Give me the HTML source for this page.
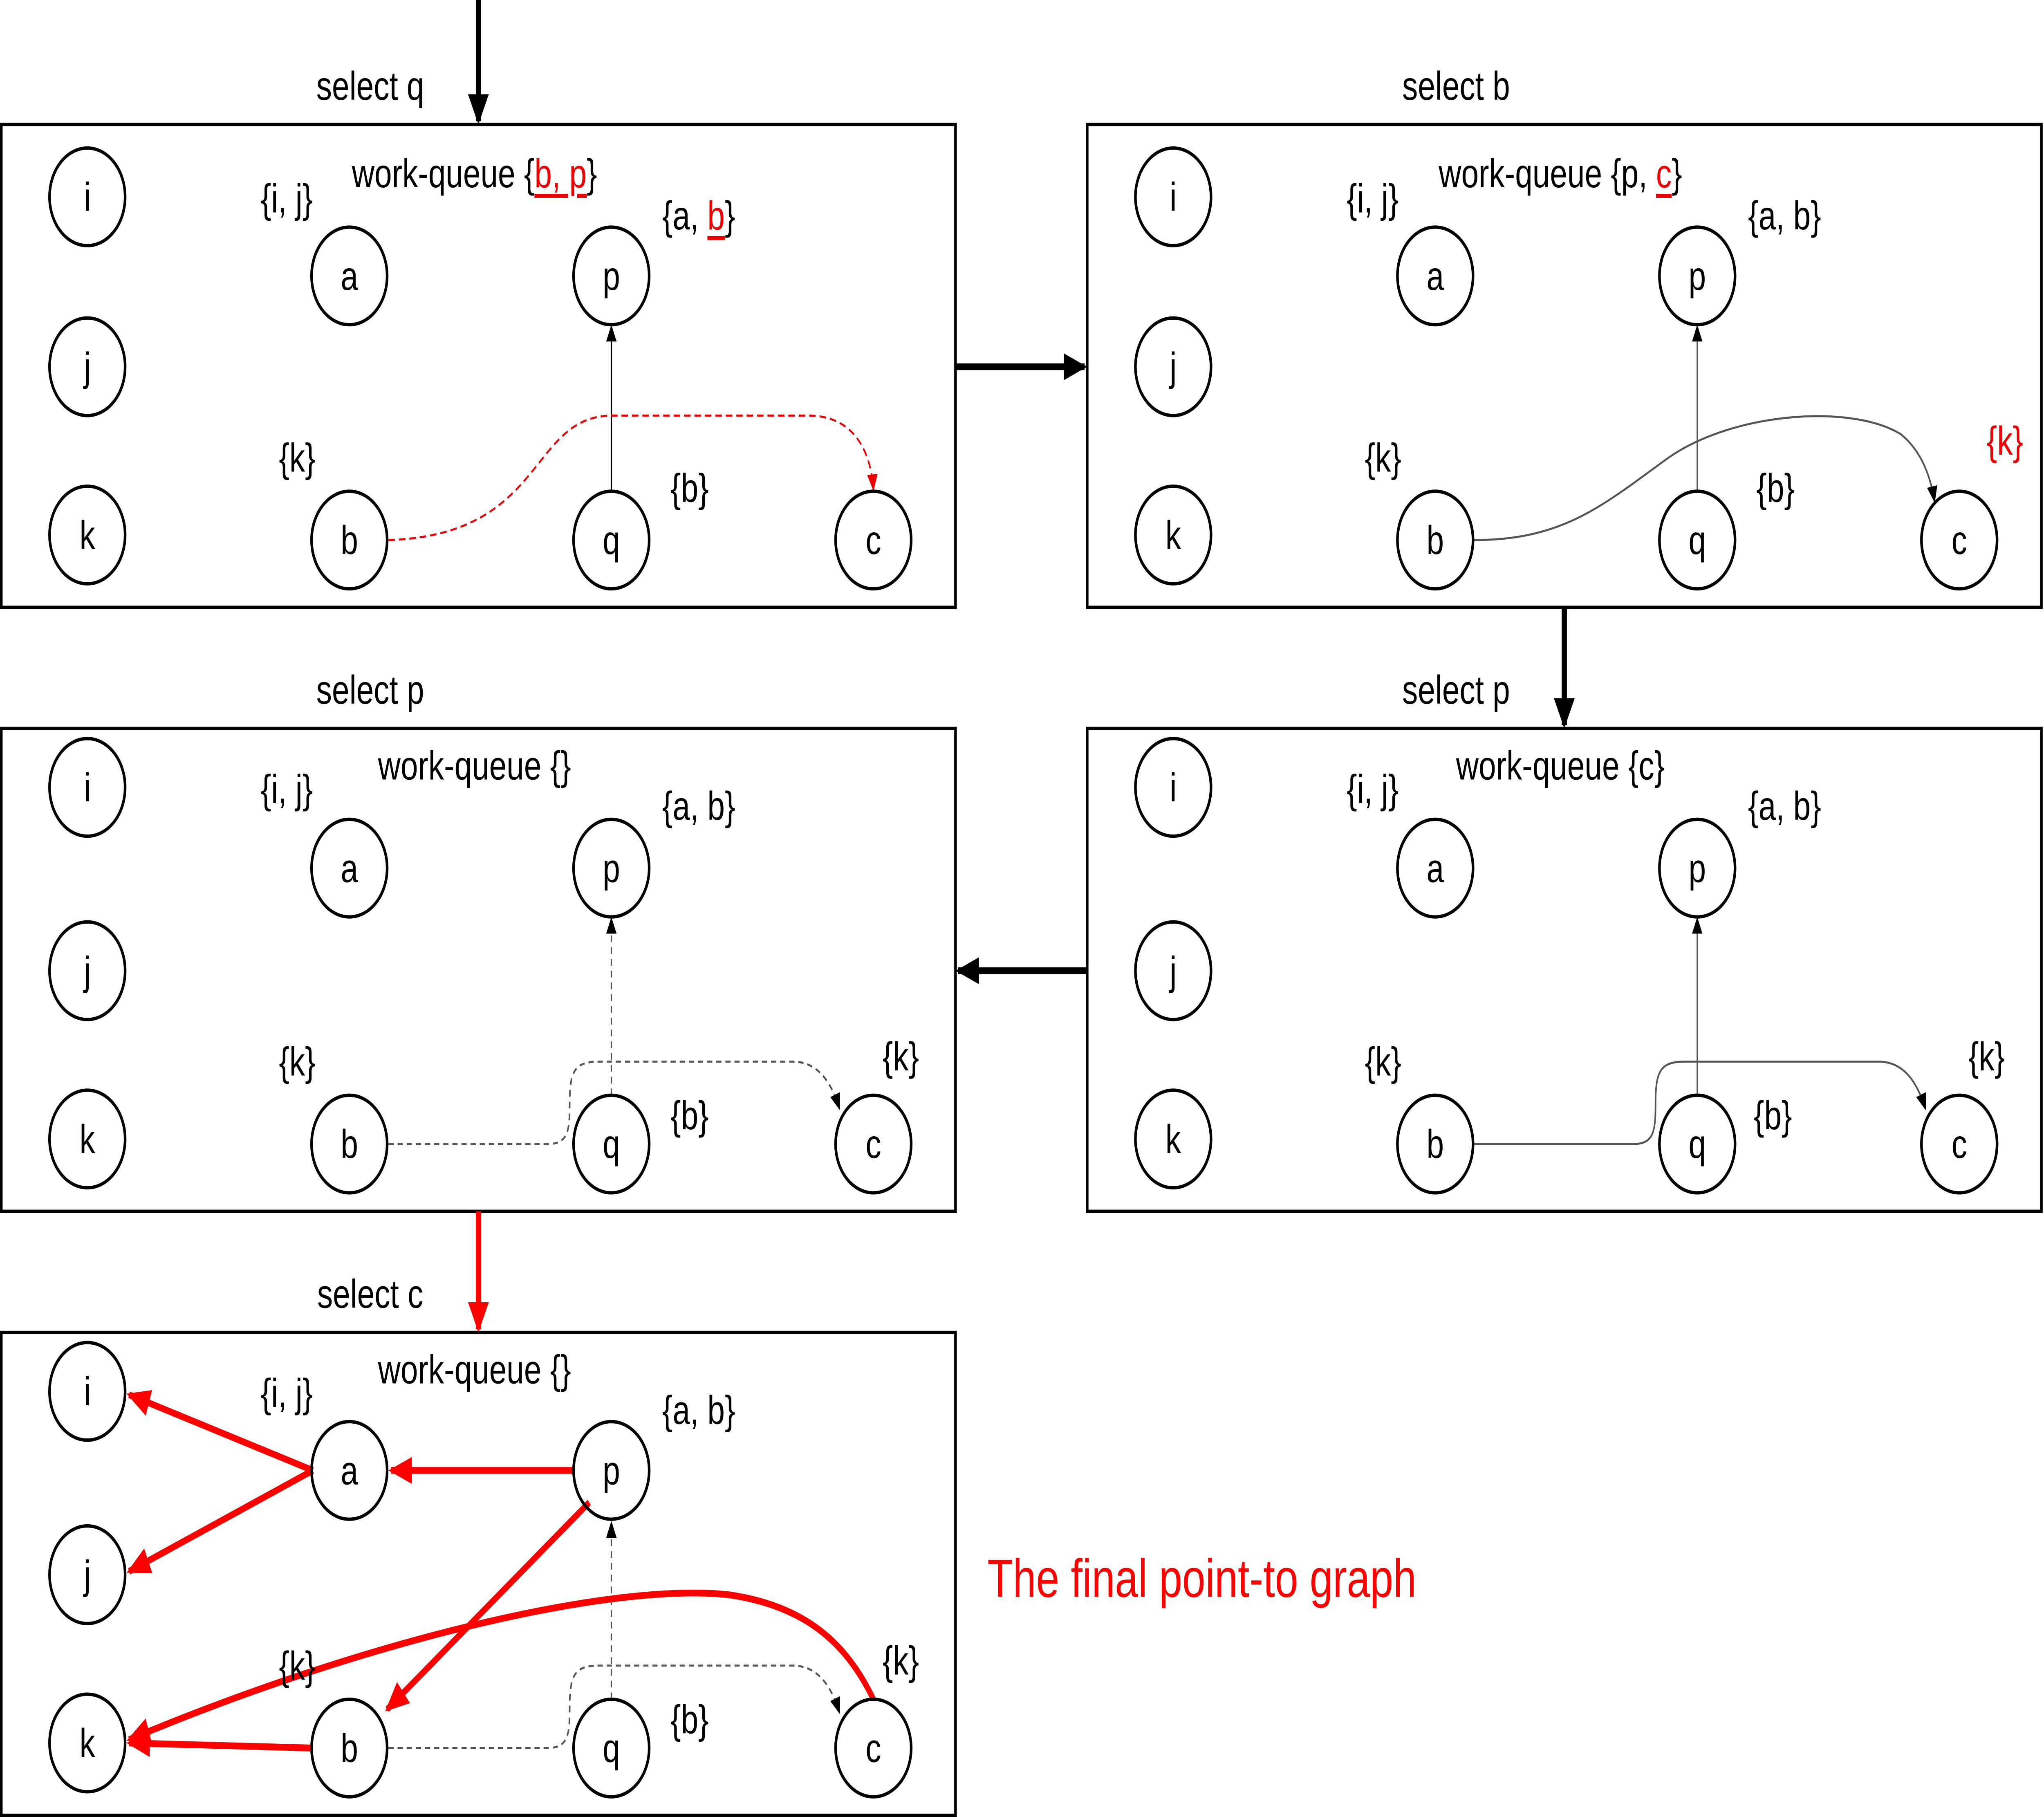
<!DOCTYPE html>
<html><head><meta charset="utf-8">
<style>html,body{margin:0;padding:0;background:#fff;width:100%;height:100%;overflow:hidden;}svg{display:block;width:100vw;height:100vh;}
text{font-family:"Liberation Sans",sans-serif;}</style></head>
<body>
<svg viewBox="0 0 1568 1080" preserveAspectRatio="none" xmlns="http://www.w3.org/2000/svg">
<defs>
<marker id="ab" markerWidth="10" markerHeight="10" refX="9" refY="5" orient="auto" markerUnits="userSpaceOnUse"><path d="M0,1 L10,5 L0,9 z" fill="#000"/></marker>
<marker id="ar" markerWidth="10" markerHeight="10" refX="9" refY="5" orient="auto" markerUnits="userSpaceOnUse"><path d="M0,1 L10,5 L0,9 z" fill="#e00"/></marker>
<marker id="abig" markerWidth="18" markerHeight="16" refX="16" refY="8" orient="auto" markerUnits="userSpaceOnUse"><path d="M0,0 L18,8 L0,16 z" fill="#000"/></marker>
<marker id="rbig" markerWidth="18" markerHeight="16" refX="16" refY="8" orient="auto" markerUnits="userSpaceOnUse"><path d="M0,0 L18,8 L0,16 z" fill="#f00"/></marker>
</defs>
<g font-size="24" text-anchor="middle" dominant-baseline="central">

<g fill="none" stroke="#000" stroke-width="2">
<rect x="1" y="74" width="732" height="287"/>
<rect x="834" y="74" width="732" height="287"/>
<rect x="1" y="433" width="732" height="287"/>
<rect x="834" y="433" width="732" height="287"/>
<rect x="1" y="792" width="732" height="287"/>
</g>

<g stroke-width="4" fill="none">
<line x1="367" y1="0" x2="367" y2="72" stroke="#000" marker-end="url(#abig)"/>
<line x1="733" y1="218" x2="832" y2="218" stroke="#000" marker-end="url(#abig)"/>
<line x1="1200" y1="361" x2="1200" y2="431" stroke="#000" marker-end="url(#abig)"/>
<line x1="834" y1="577" x2="735" y2="577" stroke="#000" marker-end="url(#abig)"/>
<line x1="367" y1="720" x2="367" y2="790" stroke="#f00" marker-end="url(#rbig)"/>
</g>

<text x="284" y="51">select q</text>
<text x="1117" y="51">select b</text>
<text x="284" y="410">select p</text>
<text x="1117" y="410">select p</text>
<text x="284" y="769">select c</text>

<line x1="469" y1="292" x2="469" y2="194" stroke="#000" stroke-width="1" marker-end="url(#ab)"/>
<path d="M298,321 C420,318 405,247 470,247 L620,247 C655,247 668,268 670,291" fill="none" stroke="#e00" stroke-width="1.2" stroke-dasharray="5,3" marker-end="url(#ar)"/>
<text x="364" y="103">work-queue {<tspan fill="#e00" text-decoration="underline">b, p</tspan>}</text>
<text x="220" y="118">{i, j}</text>
<text x="536" y="128">{a, <tspan fill="#e00" text-decoration="underline">b</tspan>}</text>
<text x="228" y="272">{k}</text>
<text x="529" y="290">{b}</text>

<line x1="1302" y1="292" x2="1302" y2="194" stroke="#555" stroke-width="1" marker-end="url(#ab)"/>
<path d="M1131,321 C1200,321 1230,300 1280,272 C1330,245 1420,240 1458,258 C1474,268 1481,283 1484,298" fill="none" stroke="#555" stroke-width="1.2" marker-end="url(#ab)"/>
<text x="1197" y="103">work-queue {p, <tspan fill="#e00" text-decoration="underline">c</tspan>}</text>
<text x="1053" y="118">{i, j}</text>
<text x="1369" y="128">{a, b}</text>
<text x="1061" y="272">{k}</text>
<text x="1362" y="290">{b}</text>
<text x="1538" y="262" fill="#e00">{k}</text>

<line x1="469" y1="651" x2="469" y2="546" stroke="#555" stroke-width="1" stroke-dasharray="4,3" marker-end="url(#ab)"/>
<path d="M298,680 L420,680 C436,680 437,672 437,656 C437,636 441,631 460,631 L608,631 C628,631 638,644 644,659" fill="none" stroke="#555" stroke-width="1.2" stroke-dasharray="4,3" marker-end="url(#ab)"/>
<text x="364" y="455">work-queue {}</text>
<text x="220" y="469">{i, j}</text>
<text x="536" y="479">{a, b}</text>
<text x="228" y="631">{k}</text>
<text x="529" y="663">{b}</text>
<text x="691" y="628">{k}</text>

<line x1="1302" y1="651" x2="1302" y2="546" stroke="#555" stroke-width="1" marker-end="url(#ab)"/>
<path d="M1131,680 L1253,680 C1269,680 1270,672 1270,656 C1270,636 1274,631 1293,631 L1441,631 C1461,631 1471,644 1477,659" fill="none" stroke="#555" stroke-width="1.2" marker-end="url(#ab)"/>
<text x="1197" y="455">work-queue {c}</text>
<text x="1053" y="469">{i, j}</text>
<text x="1369" y="479">{a, b}</text>
<text x="1061" y="631">{k}</text>
<text x="1360" y="663">{b}</text>
<text x="1524" y="628">{k}</text>

<line x1="469" y1="1010" x2="469" y2="905" stroke="#555" stroke-width="1" stroke-dasharray="4,3" marker-end="url(#ab)"/>
<path d="M298,1039 L420,1039 C436,1039 437,1031 437,1015 C437,995 441,990 460,990 L608,990 C628,990 638,1003 644,1018" fill="none" stroke="#555" stroke-width="1.2" stroke-dasharray="4,3" marker-end="url(#ab)"/>
<g stroke="#f00" stroke-width="4" fill="none">
<line x1="240" y1="874" x2="99" y2="829" marker-end="url(#rbig)"/>
<line x1="240" y1="874" x2="99" y2="934" marker-end="url(#rbig)"/>
<line x1="441" y1="874" x2="300" y2="874" marker-end="url(#rbig)"/>
<line x1="452" y1="893" x2="297" y2="1016" marker-end="url(#rbig)"/>
<line x1="240" y1="1039" x2="99" y2="1036" marker-end="url(#rbig)"/>
<path d="M670,1010 C650,978 620,955 560,948 C470,940 280,975 99,1034" marker-end="url(#rbig)"/>
</g>
<text x="364" y="814">work-queue {}</text>
<text x="220" y="828">{i, j}</text>
<text x="536" y="838">{a, b}</text>
<text x="228" y="990">{k}</text>
<text x="529" y="1022">{b}</text>
<text x="691" y="987">{k}</text>
<text x="922" y="938" font-size="32" fill="#f00">The final point-to graph</text>

<g fill="none" stroke="#000" stroke-width="2">
<circle cx="67" cy="117" r="29"/><circle cx="67" cy="218" r="29"/><circle cx="67" cy="318" r="29"/>
<circle cx="268" cy="164" r="29"/><circle cx="469" cy="164" r="29"/>
<circle cx="268" cy="321" r="29"/><circle cx="469" cy="321" r="29"/><circle cx="670" cy="321" r="29"/>
<circle cx="900" cy="117" r="29"/><circle cx="900" cy="218" r="29"/><circle cx="900" cy="318" r="29"/>
<circle cx="1101" cy="164" r="29"/><circle cx="1302" cy="164" r="29"/>
<circle cx="1101" cy="321" r="29"/><circle cx="1302" cy="321" r="29"/><circle cx="1503" cy="321" r="29"/>
<circle cx="67" cy="468" r="29"/><circle cx="67" cy="577" r="29"/><circle cx="67" cy="677" r="29"/>
<circle cx="268" cy="516" r="29"/><circle cx="469" cy="516" r="29"/>
<circle cx="268" cy="680" r="29"/><circle cx="469" cy="680" r="29"/><circle cx="670" cy="680" r="29"/>
<circle cx="900" cy="468" r="29"/><circle cx="900" cy="577" r="29"/><circle cx="900" cy="677" r="29"/>
<circle cx="1101" cy="516" r="29"/><circle cx="1302" cy="516" r="29"/>
<circle cx="1101" cy="680" r="29"/><circle cx="1302" cy="680" r="29"/><circle cx="1503" cy="680" r="29"/>
<circle cx="67" cy="827" r="29"/><circle cx="67" cy="936" r="29"/><circle cx="67" cy="1036" r="29"/>
<circle cx="268" cy="874" r="29"/><circle cx="469" cy="874" r="29"/>
<circle cx="268" cy="1039" r="29"/><circle cx="469" cy="1039" r="29"/><circle cx="670" cy="1039" r="29"/>
</g>
<g>
<text x="67" y="117">i</text><text x="67" y="218">j</text><text x="67" y="318">k</text>
<text x="268" y="164">a</text><text x="469" y="164">p</text>
<text x="268" y="321">b</text><text x="469" y="321">q</text><text x="670" y="321">c</text>
<text x="900" y="117">i</text><text x="900" y="218">j</text><text x="900" y="318">k</text>
<text x="1101" y="164">a</text><text x="1302" y="164">p</text>
<text x="1101" y="321">b</text><text x="1302" y="321">q</text><text x="1503" y="321">c</text>
<text x="67" y="468">i</text><text x="67" y="577">j</text><text x="67" y="677">k</text>
<text x="268" y="516">a</text><text x="469" y="516">p</text>
<text x="268" y="680">b</text><text x="469" y="680">q</text><text x="670" y="680">c</text>
<text x="900" y="468">i</text><text x="900" y="577">j</text><text x="900" y="677">k</text>
<text x="1101" y="516">a</text><text x="1302" y="516">p</text>
<text x="1101" y="680">b</text><text x="1302" y="680">q</text><text x="1503" y="680">c</text>
<text x="67" y="827">i</text><text x="67" y="936">j</text><text x="67" y="1036">k</text>
<text x="268" y="874">a</text><text x="469" y="874">p</text>
<text x="268" y="1039">b</text><text x="469" y="1039">q</text><text x="670" y="1039">c</text>
</g>
</g>
</svg>
</body></html>
